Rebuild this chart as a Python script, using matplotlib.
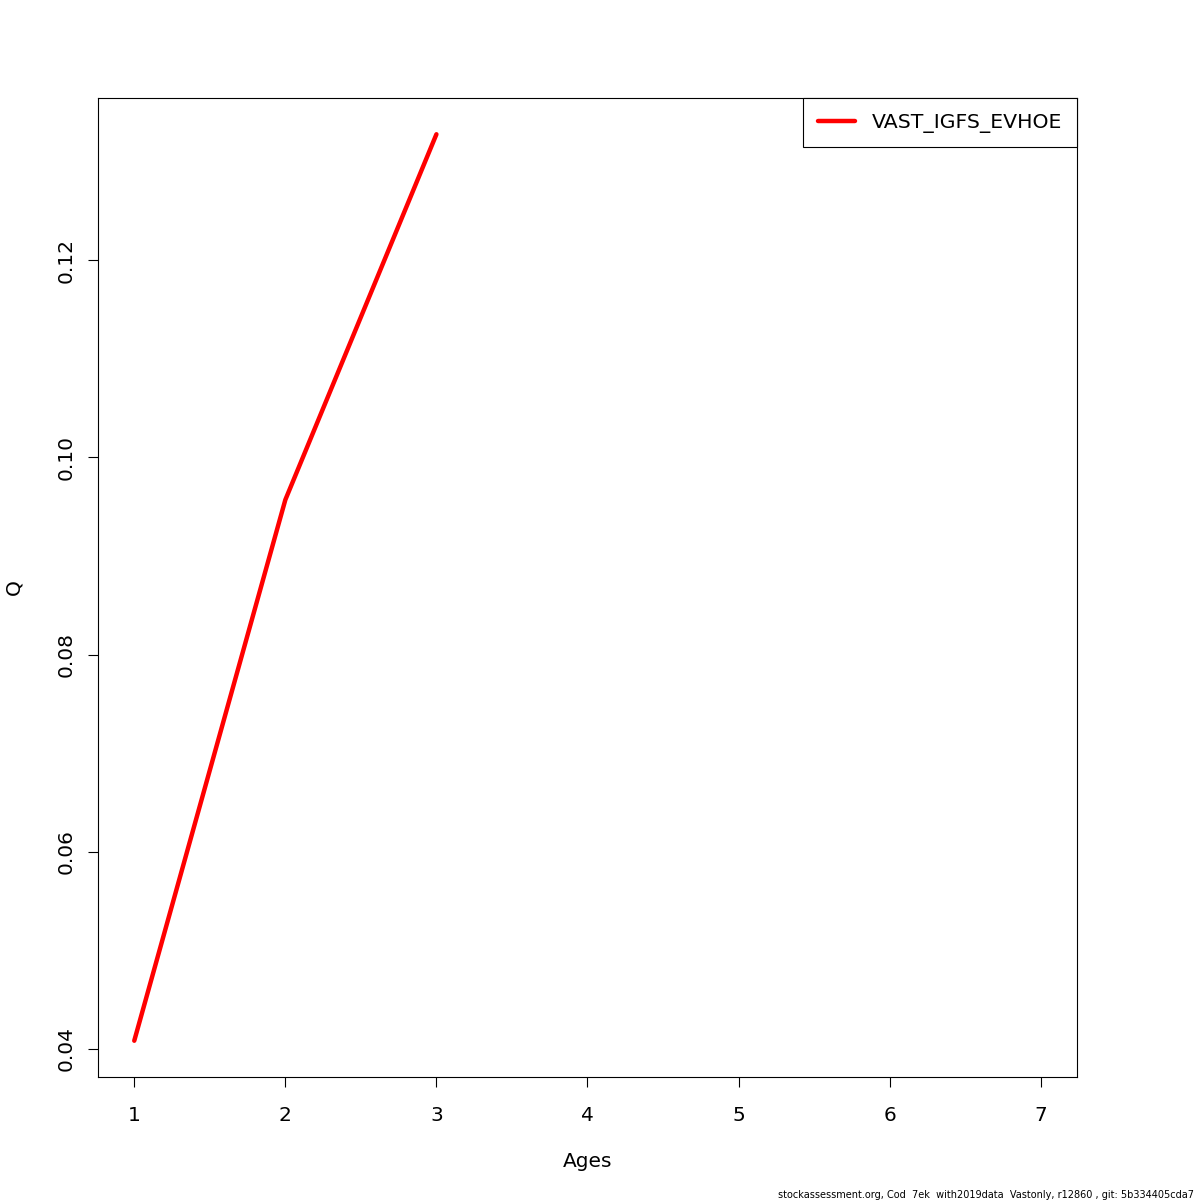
import matplotlib.pyplot as plt
import numpy as np

# data
ages = [1, 2, 3]
q_values = [0.0408, 0.0957, 0.1328]
series_name = "VAST_IGFS_EVHOE"
xticks = [1, 2, 3, 4, 5, 6, 7]
yticks = [0.04, 0.06, 0.08, 0.10, 0.12]
footer = "stockassessment.org, Cod  7ek  with2019data  Vastonly, r12860 , git: 5b334405cda7"

fig = plt.figure(figsize=(12, 12), dpi=100)
ax = fig.add_axes([98 / 1200, 123 / 1200, 979 / 1200, 979 / 1200])

ax.plot(ages, q_values, color='red', lw=3.2, solid_capstyle='round',
        solid_joinstyle='round', label=series_name)

# R style padding of 4%
ymin, ymax = min(q_values), max(q_values)
pad = 0.04 * (ymax - ymin)
ax.set_xlim(1 - 0.24, 7 + 0.24)
ax.set_ylim(ymin - pad, ymax + pad)

ax.set_xticks(xticks)
ax.set_xticklabels([str(t) for t in xticks])
ax.set_yticks(yticks)
ax.set_yticklabels(["%.2f" % t for t in yticks], rotation=90, va='center')
ax.tick_params(direction='out', length=7, width=0.8, labelsize=14.5, pad=14)
ax.tick_params(axis='y', pad=9)

for s in ax.spines.values():
    s.set_linewidth(0.8)

ax.set_xlabel("Ages", fontsize=14.5, labelpad=19)
ax.set_ylabel("Q", fontsize=14.5, labelpad=24)

leg = ax.legend(loc='upper right', fontsize=14.7, fancybox=False, framealpha=1,
                edgecolor='black', borderaxespad=0, handlelength=1.8,
                borderpad=0.72, handletextpad=0.85)
leg.get_frame().set_linewidth(0.8)

fig.text(0.995, 0.0, footer, ha='right', va='bottom', fontsize=7)

fig.savefig('out.png', dpi=100)
